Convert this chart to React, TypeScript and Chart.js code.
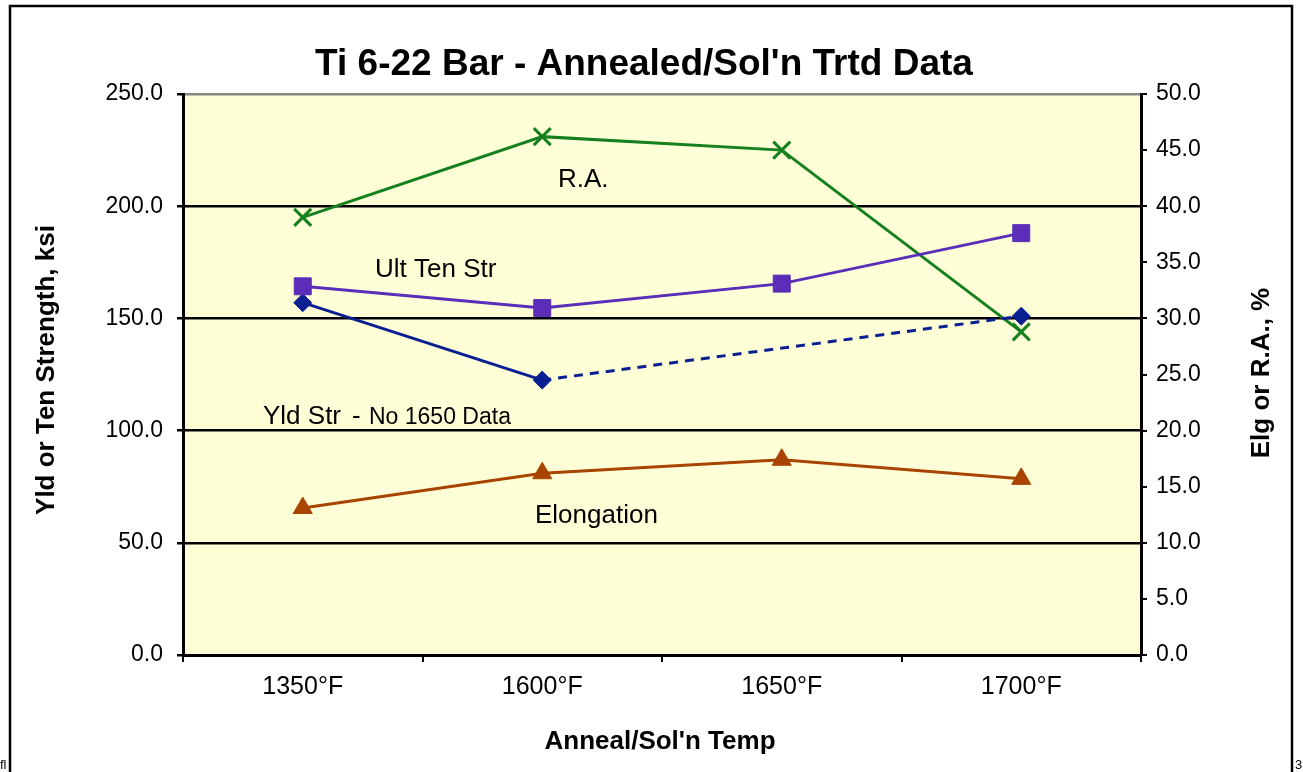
import React, { useEffect, useRef } from "react";
import { Chart, registerables } from "chart.js";

Chart.register(...registerables);

const categories = ["1350°F", "1600°F", "1650°F", "1700°F"];
const ultTenStr = [164.3, 154.6, 165.5, 188.0];
const yldStr = [157.0, 122.5, null, 151.0];
const reductionArea = [39.0, 46.2, 45.0, 28.8];
const elongation = [13.1, 16.2, 17.4, 15.7];

const leftMin = 0;
const leftMax = 250;
const leftStep = 50;
const rightMin = 0;
const rightMax = 50;
const rightStep = 5;

const titleText = "Ti 6-22 Bar - Annealed/Sol'n Trtd Data";
const leftTitle = "Yld or Ten Strength, ksi";
const rightTitle = "Elg or R.A., %";
const bottomTitle = "Anneal/Sol'n Temp";

const FONT = "'Liberation Sans', Arial, sans-serif";

const overlayPlugin = {
  id: "overlay",
  beforeDraw(chart: any) {
    const { ctx, chartArea } = chart;
    ctx.save();
    ctx.fillStyle = "#ffffff";
    ctx.fillRect(0, 0, chart.width, chart.height);
    ctx.fillStyle = "#FFFFD7";
    ctx.fillRect(chartArea.left, chartArea.top, chartArea.right - chartArea.left, chartArea.bottom - chartArea.top);
    ctx.restore();
  },
  afterDraw(chart: any) {
    const { ctx } = chart;
    ctx.save();
    // outer frame
    ctx.strokeStyle = "#000";
    ctx.lineWidth = 2.5;
    ctx.beginPath();
    ctx.moveTo(10, 780);
    ctx.lineTo(10, 6);
    ctx.lineTo(1292, 6);
    ctx.lineTo(1292, 780);
    ctx.stroke();

    ctx.fillStyle = "#000";
    ctx.textAlign = "center";
    ctx.textBaseline = "alphabetic";
    ctx.font = `bold 37px ${FONT}`;
    ctx.fillText(titleText, 644, 75);

    ctx.font = `bold 26px ${FONT}`;
    ctx.fillText(bottomTitle, 660, 749);

    ctx.save();
    ctx.translate(47, 370);
    ctx.rotate(-Math.PI / 2);
    ctx.textBaseline = "middle";
    ctx.fillText(leftTitle, 0, 0);
    ctx.restore();

    ctx.save();
    ctx.translate(1262, 373);
    ctx.rotate(-Math.PI / 2);
    ctx.textBaseline = "middle";
    ctx.fillText(rightTitle, 0, 0);
    ctx.restore();

    // series annotations
    ctx.font = `26px ${FONT}`;
    ctx.textAlign = "left";
    ctx.fillText("R.A.", 558, 187);
    ctx.fillText("Ult Ten Str", 375, 277);
    ctx.fillText("Yld Str", 263, 424);
    ctx.fillText("-", 352, 424);
    ctx.font = `23px ${FONT}`;
    ctx.fillText("No 1650 Data", 369, 424);
    ctx.font = `26px ${FONT}`;
    ctx.fillText("Elongation", 535, 523);

    ctx.font = `13px ${FONT}`;
    ctx.fillText("fl", 0, 769);
    ctx.fillText("3", 1295, 769);
    ctx.restore();
  },
};

const gapDash = (ctx: any) =>
  ctx.p0.skip || ctx.p1.skip || ctx.p1DataIndex - ctx.p0DataIndex > 1 ? [9, 7] : undefined;

export default function App() {
  const ref = useRef<HTMLCanvasElement | null>(null);
  useEffect(() => {
    if (!ref.current) return;
    const chart = new Chart(ref.current, {
      type: "line",
      data: {
        labels: categories,
        datasets: [
          {
            label: "Ult Ten Str",
            data: ultTenStr,
            yAxisID: "y",
            borderColor: "#5B2DB8",
            backgroundColor: "#5B2DB8",
            borderWidth: 3,
            pointStyle: "rect",
            pointRadius: 12,
            pointBorderWidth: 1,
          },
          {
            label: "Yld Str",
            data: yldStr,
            yAxisID: "y",
            borderColor: "#0A1F91",
            backgroundColor: "#0A1F91",
            borderWidth: 3,
            pointStyle: "rectRot",
            pointRadius: 9,
            pointBorderWidth: 1,
            spanGaps: true,
            segment: { borderDash: gapDash },
          },
          {
            label: "R.A.",
            data: reductionArea,
            yAxisID: "y1",
            borderColor: "#14801E",
            backgroundColor: "#14801E",
            borderWidth: 3,
            pointStyle: "crossRot",
            pointRadius: 12,
            pointBorderWidth: 3,
          },
          {
            label: "Elongation",
            data: elongation,
            yAxisID: "y1",
            borderColor: "#A84400",
            backgroundColor: "#A84400",
            borderWidth: 3,
            pointStyle: "triangle",
            pointRadius: 11,
            pointBorderWidth: 1,
          },
        ],
      },
      options: {
        responsive: false,
        animation: false,
        layout: { padding: { top: 94, left: 0, right: 0, bottom: 0 } },
        plugins: {
          legend: { display: false },
          title: { display: false },
          tooltip: { enabled: false },
        },
        scales: {
          x: {
            type: "category",
            offset: true,
            grid: {
              offset: true,
              drawOnChartArea: false,
              drawTicks: true,
              tickLength: 7,
              color: "#000",
              lineWidth: 2,
            },
            border: { display: true, color: "#000", width: 3 },
            ticks: { color: "#000", font: { family: FONT, size: 25 }, padding: 10 },
            afterFit: (s: any) => {
              s.height = 117;
            },
          },
          y: {
            position: "left",
            min: leftMin,
            max: leftMax,
            ticks: {
              stepSize: leftStep,
              color: "#000",
              font: { family: FONT, size: 23 },
              padding: 14,
              callback: (v: any) => Number(v).toFixed(1),
            },
            grid: {
              color: (c: any) => (c.tick && c.tick.value === leftMax ? "#888888" : "#000"),
              tickColor: "#000",
              lineWidth: 2.5,
              tickLength: 6,
            },
            border: { display: true, color: "#000", width: 3 },
            afterFit: (s: any) => {
              s.width = 183;
            },
          },
          y1: {
            position: "right",
            min: rightMin,
            max: rightMax,
            ticks: {
              stepSize: rightStep,
              color: "#000",
              font: { family: FONT, size: 23 },
              padding: 9,
              callback: (v: any) => Number(v).toFixed(1),
            },
            grid: {
              drawOnChartArea: false,
              tickColor: "#000",
              lineWidth: 2,
              tickLength: 6,
            },
            border: { display: true, color: "#000", width: 3 },
            afterFit: (s: any) => {
              s.width = 162;
            },
          },
        },
      } as any,
      plugins: [overlayPlugin],
    });
    return () => chart.destroy();
  }, []);

  return (
    <div style={{ position: "fixed", left: 0, top: 0, width: 1303, height: 772 }}>
      <canvas ref={ref} width={1303} height={772} style={{ display: "block" }} />
    </div>
  );
}
